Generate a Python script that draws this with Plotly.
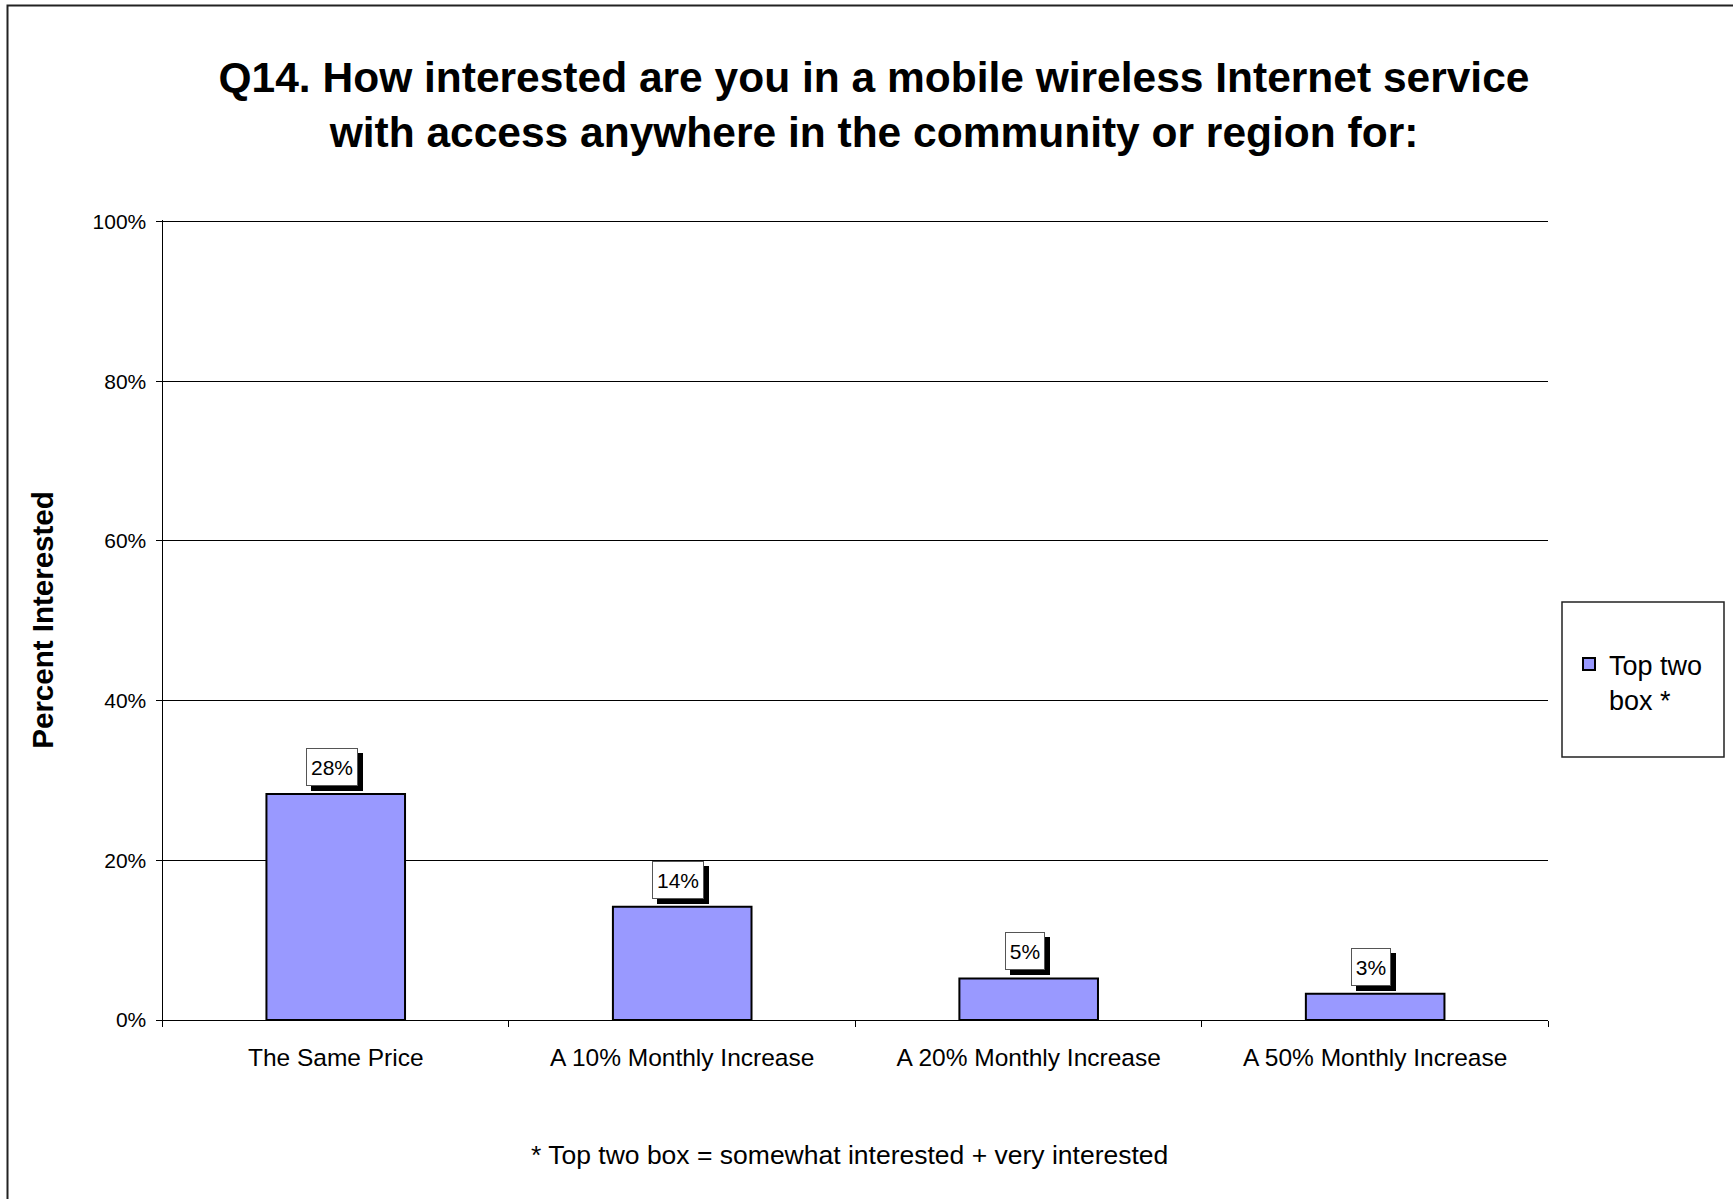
import plotly.graph_objects as go

# ---- data ----
categories = ["The Same Price", "A 10% Monthly Increase", "A 20% Monthly Increase", "A 50% Monthly Increase"]
top_two_box = [28.3, 14.2, 5.2, 3.3]
series_name = "Top two<br>box *"
y_ticks = [0, 20, 40, 60, 80, 100]
y_tick_labels = ["0%", "20%", "40%", "60%", "80%", "100%"]
title_text = "Q14. How interested are you in a mobile wireless Internet service<br>with access anywhere in the community or region for:"
y_title = "Percent Interested"
footnote = "* Top two box = somewhat interested + very interested"

W, H = 1733, 1199
FONT = "Arial, Liberation Sans, sans-serif"
LABEL_SIZE = 21


def px(x):
    return x / W


def py(y):
    return 1 - y / H


def text_w(s, size):
    widths = {"%": 0.889}
    return size * sum(widths.get(ch, 0.556) for ch in s)


fig = go.Figure()
fig.add_trace(go.Bar(
    x=categories, y=top_two_box, name=series_name,
    marker=dict(color="#9999FF", line=dict(color="black", width=2)),
))

annotations = []
for c, v in zip(categories, top_two_box):
    label = f"{round(v)}%"
    bw = round(text_w(label, LABEL_SIZE)) + 2
    bh = 30
    # drop shadow
    annotations.append(dict(
        x=c, y=v, xref="x", yref="y", text=" ", showarrow=False,
        width=bw, height=bh,
        yanchor="bottom", xanchor="center", xshift=1, yshift=3,
        font=dict(family=FONT, size=LABEL_SIZE, color="black"),
        bgcolor="black", bordercolor="black", borderwidth=1, borderpad=3,
    ))
    annotations.append(dict(
        x=c, y=v, xref="x", yref="y", text=label, showarrow=False,
        width=bw, height=bh,
        yanchor="bottom", xanchor="center", xshift=-4, yshift=8,
        font=dict(family=FONT, size=LABEL_SIZE, color="black"),
        bgcolor="white", bordercolor="#555", borderwidth=1, borderpad=3,
    ))

annotations.append(dict(
    x=px(849), y=py(1155), xref="paper", yref="paper", text=footnote,
    showarrow=False, xanchor="center", yanchor="middle",
    font=dict(family=FONT, size=26.5, color="black"),
))

shapes = [
    dict(type="rect", xref="paper", yref="paper",
         x0=px(7.5), x1=px(1745), y0=py(1215), y1=py(5.5),
         line=dict(color="#222", width=2), fillcolor="rgba(0,0,0,0)", layer="below"),
    dict(type="rect", xref="paper", yref="paper",
         x0=px(1562), x1=px(1724), y0=py(757), y1=py(602),
         line=dict(color="#222", width=1.5), fillcolor="rgba(0,0,0,0)"),
]

fig.update_layout(
    width=W, height=H,
    margin=dict(l=0, r=0, t=0, b=0, autoexpand=False),
    paper_bgcolor="white", plot_bgcolor="white",
    font=dict(family=FONT, color="black"),
    title=dict(text=title_text, x=px(874), xanchor="center",
               y=py(92), yanchor="top", yref="paper", automargin=False,
               font=dict(family=FONT, size=42.5, color="black", weight="bold")),
    bargap=0.6,
    showlegend=True,
    legend=dict(x=px(1569), xanchor="left", y=py(640), yanchor="top",
                bgcolor="rgba(0,0,0,0)", borderwidth=0, valign="top",
                font=dict(family=FONT, size=27, color="black")),
    xaxis=dict(domain=[px(162.5), px(1548.4)], type="category", automargin=False,
               showline=True, linecolor="black", linewidth=1,
               ticks="outside", tickson="boundaries", ticklen=6, tickcolor="black",
               showgrid=False, tickfont=dict(family=FONT, size=24.5, color="black"),
               ticklabelstandoff=16),
    yaxis=dict(domain=[py(1020), py(220)], range=[0, y_ticks[-1] * 1.002],
               tickmode="array", tickvals=y_ticks, ticktext=y_tick_labels,
               automargin=False,
               showgrid=True, gridcolor="black", gridwidth=1,
               showline=True, linecolor="black", linewidth=1, zeroline=False,
               ticks="outside", ticklen=6, tickcolor="black",
               tickfont=dict(family=FONT, size=21, color="black"),
               ticklabelstandoff=5,
               title=dict(text=y_title, standoff=30,
                          font=dict(family=FONT, size=29.5, color="black", weight="bold"))),
    annotations=annotations,
    shapes=shapes,
)

fig.write_html("out.html", config={"displayModeBar": False},
               post_script="document.body.style.margin='0px';")
